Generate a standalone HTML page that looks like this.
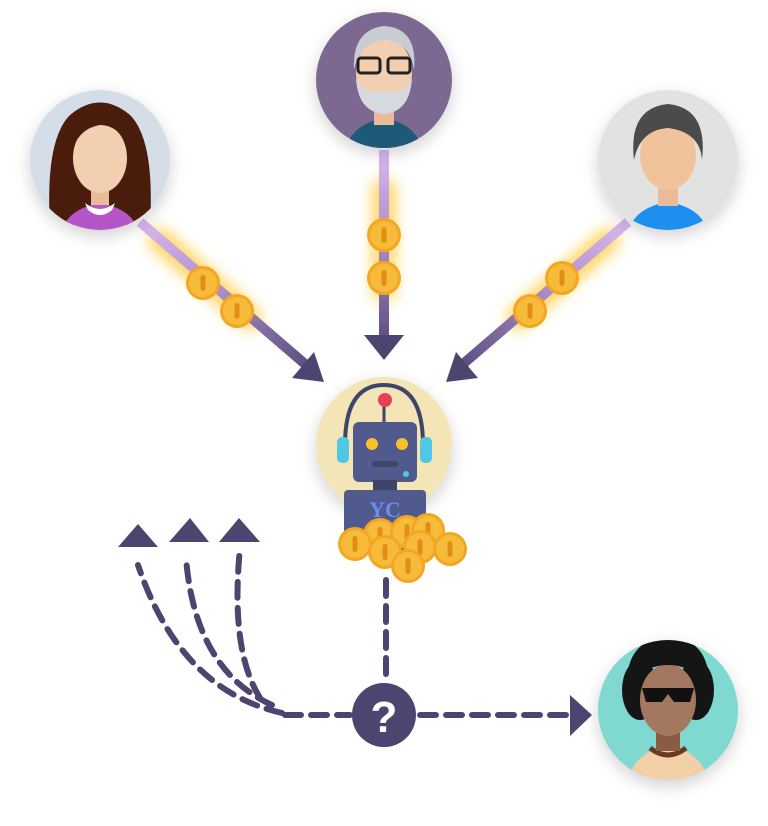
<!DOCTYPE html>
<html><head><style>html,body{margin:0;padding:0;background:#fff;width:768px;height:826px;overflow:hidden}</style></head>
<body>
<svg width="768" height="826" viewBox="0 0 768 826" xmlns="http://www.w3.org/2000/svg" font-family="Liberation Sans, sans-serif">
<defs>
<filter id="sh" x="-30%" y="-30%" width="160%" height="160%"><feDropShadow dx="0" dy="6" stdDeviation="8" flood-color="#000" flood-opacity="0.18"/></filter>
<filter id="gl" x="-50%" y="-50%" width="200%" height="200%"><feGaussianBlur stdDeviation="7"/></filter>
<linearGradient id="gL" gradientUnits="userSpaceOnUse" x1="140" y1="222" x2="305" y2="364"><stop offset="0" stop-color="#d9b8f0"/><stop offset="0.5" stop-color="#a98bc8"/><stop offset="1" stop-color="#5e5080"/></linearGradient>
<linearGradient id="gM" gradientUnits="userSpaceOnUse" x1="384" y1="150" x2="384" y2="338"><stop offset="0" stop-color="#d9b8f0"/><stop offset="0.5" stop-color="#a98bc8"/><stop offset="1" stop-color="#5e5080"/></linearGradient>
<linearGradient id="gR" gradientUnits="userSpaceOnUse" x1="628" y1="222" x2="463" y2="364"><stop offset="0" stop-color="#d9b8f0"/><stop offset="0.5" stop-color="#a98bc8"/><stop offset="1" stop-color="#5e5080"/></linearGradient>
<g id="coin"><circle r="17" fill="#f4a623"/><circle r="14" fill="#f7bb3c"/><rect x="-2.5" y="-8" width="5" height="16" rx="2.5" fill="#e08f10"/></g>
</defs>

<g filter="url(#gl)" opacity="0.85">
<line x1="160" y1="240" x2="250" y2="318" stroke="#ffcf4a" stroke-width="24" stroke-linecap="round"/>
<line x1="384" y1="190" x2="384" y2="290" stroke="#ffcf4a" stroke-width="24" stroke-linecap="round"/>
<line x1="608" y1="240" x2="518" y2="318" stroke="#ffcf4a" stroke-width="24" stroke-linecap="round"/>
</g>

<g stroke-width="10">
<line x1="140" y1="222" x2="305" y2="364" stroke="url(#gL)"/>
<line x1="384" y1="150" x2="384" y2="338" stroke="url(#gM)"/>
<line x1="628" y1="222" x2="463" y2="364" stroke="url(#gR)"/>
</g>
<polygon points="324,382 292,378 314,352" fill="#4e4470"/>
<polygon points="384,360 364,335 404,335" fill="#4e4470"/>
<polygon points="446,382 478,378 456,352" fill="#4e4470"/>

<use href="#coin" x="203" y="283"/><use href="#coin" x="237" y="311"/>
<use href="#coin" x="384" y="235"/><use href="#coin" x="384" y="278"/>
<use href="#coin" x="562" y="278"/><use href="#coin" x="530" y="311"/>

<g filter="url(#sh)"><circle cx="100" cy="160" r="70" fill="#d4dde8"/></g>
<clipPath id="c1"><circle cx="100" cy="160" r="70"/></clipPath>
<g clip-path="url(#c1)">
<path d="M50 225 Q45 140 70 115 Q100 90 130 115 Q155 140 150 225 Z" fill="#4a1c0c"/>
<path d="M60 240 Q62 210 100 203 Q138 210 140 240 Z" fill="#b456c8"/>
<rect x="91" y="180" width="18" height="25" fill="#e9bb98"/>
<ellipse cx="100" cy="158" rx="27" ry="35" fill="#f3cfb1"/>
<path d="M72 150 Q80 115 105 118 Q128 122 128 150 Q120 125 100 125 Q80 128 72 150Z" fill="#4a1c0c"/>
<path d="M85 203 Q100 215 115 203 L112 210 Q100 220 88 210Z" fill="#fff"/>
</g>

<g filter="url(#sh)"><circle cx="384" cy="80" r="68" fill="#7d6891"/></g>
<clipPath id="c2"><circle cx="384" cy="80" r="68"/></clipPath>
<g clip-path="url(#c2)">
<path d="M344 160 Q346 125 384 118 Q422 125 424 160 Z" fill="#1e5a78"/>
<rect x="374" y="100" width="20" height="25" fill="#e9bb98"/>
<ellipse cx="384" cy="72" rx="28" ry="34" fill="#f3cfb1"/>
<path d="M354 70 Q352 30 384 26 Q418 28 414 70 Q410 42 384 40 Q360 42 354 70Z" fill="#c8cdd3"/>
<path d="M356 78 Q358 112 384 114 Q410 112 412 78 Q405 95 384 92 Q364 95 356 78Z" fill="#d6d9dd"/>
<rect x="358" y="58" width="22" height="15" rx="3" fill="none" stroke="#222" stroke-width="3"/>
<rect x="388" y="58" width="22" height="15" rx="3" fill="none" stroke="#222" stroke-width="3"/>
</g>

<g filter="url(#sh)"><circle cx="668" cy="160" r="70" fill="#e2e3e1"/></g>
<clipPath id="c3"><circle cx="668" cy="160" r="70"/></clipPath>
<g clip-path="url(#c3)">
<path d="M626 240 Q630 208 668 202 Q706 208 710 240 Z" fill="#1e8ef0"/>
<rect x="658" y="178" width="20" height="28" fill="#e9bb98"/>
<ellipse cx="668" cy="155" rx="28" ry="35" fill="#f0c39c"/>
<path d="M634 160 Q628 108 668 104 Q708 108 702 160 Q700 132 668 128 Q640 130 634 160Z" fill="#4b4b4b"/>
</g>

<g filter="url(#sh)"><circle cx="384" cy="445" r="68" fill="#f3e5b6"/></g>
<path d="M345 445 Q345 385 384 385 Q423 385 423 445" fill="none" stroke="#3d4569" stroke-width="4"/>
<rect x="337" y="437" width="12" height="26" rx="5" fill="#4fc8e6"/>
<rect x="420" y="437" width="12" height="26" rx="5" fill="#4fc8e6"/>
<line x1="384" y1="400" x2="384" y2="425" stroke="#3d4569" stroke-width="3"/>
<circle cx="385" cy="400" r="7" fill="#e9405a"/>
<rect x="353" y="422" width="64" height="60" rx="6" fill="#505a8c"/>
<circle cx="372" cy="444" r="6" fill="#f7c12c"/><circle cx="402" cy="444" r="6" fill="#f7c12c"/>
<rect x="372" y="461" width="26" height="6" rx="3" fill="#3d4569"/>
<circle cx="406" cy="474" r="3" fill="#4fc8e6"/>
<rect x="373" y="480" width="24" height="12" fill="#3d4569"/>
<rect x="344" y="490" width="82" height="60" rx="4" fill="#505a8c"/>
<text x="385" y="517" text-anchor="middle" font-family="Liberation Serif, serif" font-weight="bold" font-size="22" fill="#6a8ef0">YC</text>
<use href="#coin" x="380" y="535"/><use href="#coin" x="407" y="532"/><use href="#coin" x="428" y="530"/>
<use href="#coin" x="355" y="544"/><use href="#coin" x="385" y="552"/><use href="#coin" x="420" y="547"/>
<use href="#coin" x="450" y="549"/><use href="#coin" x="408" y="566"/>

<g stroke="#4e4470" stroke-width="6" fill="none" stroke-dasharray="16 10" stroke-linecap="round">
<line x1="386" y1="580" x2="386" y2="675"/>
<line x1="285" y1="715" x2="350" y2="715"/>
<line x1="420" y1="715" x2="568" y2="715"/>
<path d="M282 713 Q180 690 138 565"/>
<path d="M272 705 Q195 670 186 558"/>
<path d="M260 698 Q230 650 240 548"/>
</g>
<polygon points="118,547 158,547 138,524" fill="#4e4470"/>
<polygon points="169,542 209,542 190,518" fill="#4e4470"/>
<polygon points="219,542 260,542 239,518" fill="#4e4470"/>
<polygon points="570,695 592,715 570,736" fill="#4e4470"/>
<circle cx="384" cy="715" r="32" fill="#4e4470"/>
<text x="384" y="732" text-anchor="middle" font-weight="bold" font-size="44" fill="#fff">?</text>

<g filter="url(#sh)"><circle cx="668" cy="710" r="70" fill="#7fd9d0"/></g>
<clipPath id="c4"><circle cx="668" cy="710" r="70"/></clipPath>
<g clip-path="url(#c4)">
<path d="M626 790 Q630 752 668 746 Q706 752 710 790 Z" fill="#f3cfa8"/>
<path d="M650 748 Q668 762 686 748" stroke="#6b3a1e" stroke-width="5" fill="none"/>
<rect x="656" y="725" width="24" height="26" fill="#8a5c44"/>
<ellipse cx="640" cy="690" rx="18" ry="30" fill="#151515"/>
<ellipse cx="696" cy="690" rx="18" ry="30" fill="#151515"/>
<ellipse cx="668" cy="700" rx="28" ry="36" fill="#a47860"/>
<path d="M628 700 Q620 640 668 636 Q716 640 708 700 Q700 665 668 665 Q636 665 628 700Z" fill="#151515"/>
<path d="M642 688 L694 688 L690 702 L674 702 L668 694 L662 702 L646 702Z" fill="#111"/>
</g>
</svg>
</body></html>
